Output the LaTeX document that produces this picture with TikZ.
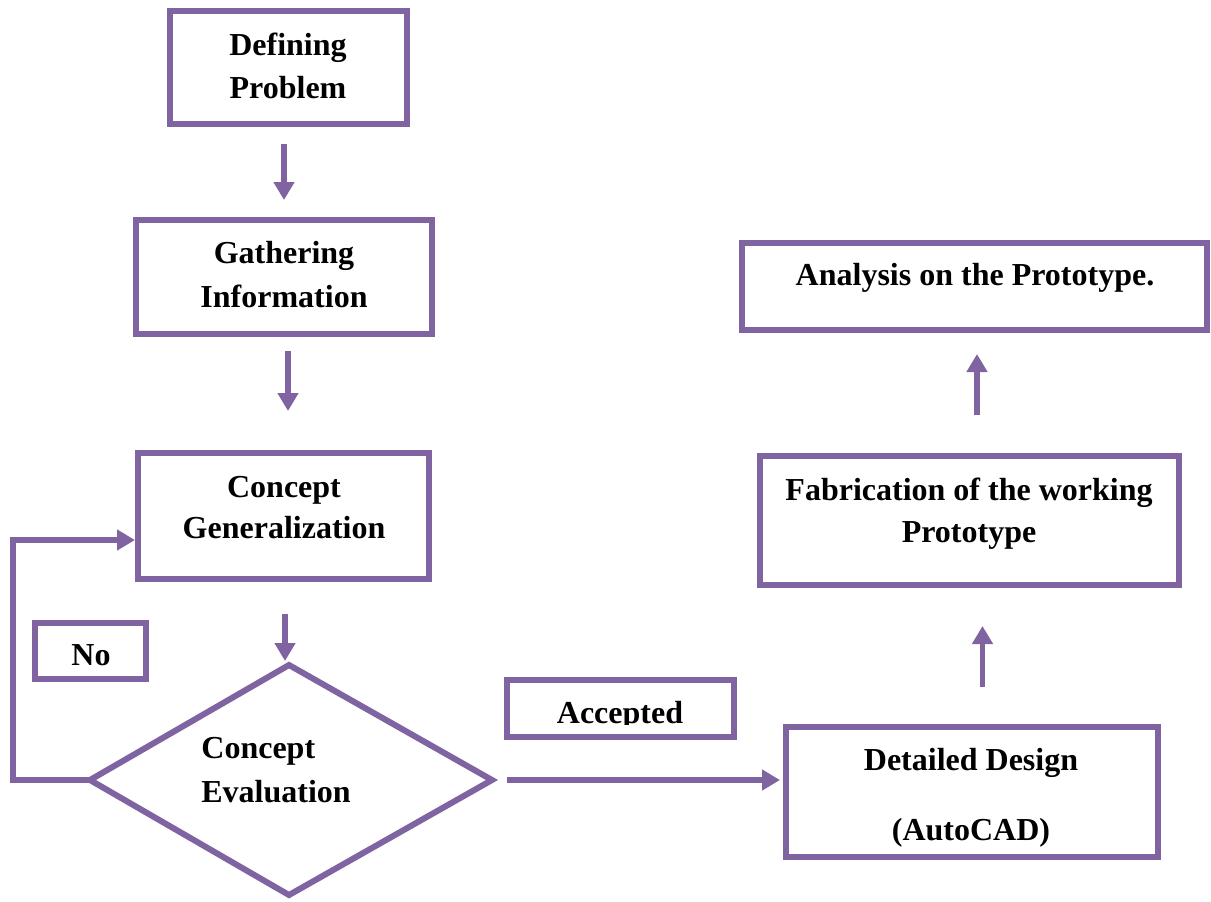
\documentclass[tikz,border=0pt]{standalone}
\usepackage{fontspec}
\setmainfont{Liberation Serif}
\usetikzlibrary{arrows.meta}
\definecolor{purp}{HTML}{8064A2}
\begin{document}
\begin{tikzpicture}[x=0.5pt,y=-0.5pt,
  box/.style={draw=purp,line width=3pt,inner sep=0pt,fill=white},
  txt/.style={font=\bfseries\fontsize{16}{19}\selectfont,anchor=base,inner sep=0pt},
  txtl/.style={txt,anchor=base west},
  arr/.style={draw=purp,line width=2.75pt,-{Triangle[width=10pt,length=9pt]}},
  dline/.style={draw=purp,line width=3pt,line join=miter}]
\fill[white] (0,0) rectangle (1211,901);
\useasboundingbox (0,0) rectangle (1211,901);

% boxes
\node[box,minimum width=118.5pt,minimum height=56.5pt] (def) at (288.5,67.5) {};
\node[box,minimum width=148pt,minimum height=57pt] (gat) at (284,277) {};
\node[box,minimum width=145.5pt,minimum height=63pt] (cg) at (283.5,516) {};
\node[box,minimum width=55.5pt,minimum height=28pt] (no) at (90.5,651) {};
\node[box,minimum width=113.5pt,minimum height=28.5pt] (acc) at (620.5,708.5) {};
\node[box,minimum width=186pt,minimum height=65pt] (dd) at (972,792) {};
\node[box,minimum width=209.5pt,minimum height=64.5pt] (fab) at (969.5,520.5) {};
\node[box,minimum width=232.5pt,minimum height=43.5pt] (ana) at (974.5,286.5) {};

% diamond
\coordinate (dt) at (289,665);
\coordinate (dr) at (492,780);
\coordinate (db) at (289,895);
\coordinate (dl) at (90,780);
\draw[dline] (dt) -- (dr) -- (db) -- (dl) -- cycle;

% texts
\node[txt] (def1) at (288,55) {Defining};
\node[txt] (def2) at (288,98) {Problem};
\node[txt] (gat1) at (284,263) {Gathering};
\node[txt] (gat2) at (284,307) {Information};
\node[txt] (cg1) at (284,497) {Concept};
\node[txt] (cg2) at (284,538) {Generalization};
\node[txt] (no1) at (91,665) {No};
\node[txtl] (ev1) at (201,758) {Concept};
\node[txtl] (ev2) at (201,802) {Evaluation};
\begin{scope}
  \clip (508,681) rectangle (733,724);
  \node[txt] (acc1) at (620,723) {Accepted};
\end{scope}
\node[txt] (dd1) at (971,770) {Detailed Design};
\node[txt] (dd2) at (971,840) {(AutoCAD)};
\node[txt] (fab1) at (969,500) {Fabrication of the working};
\node[txt] (fab2) at (969,542) {Prototype};
\node[txt] (ana1) at (975,285) {Analysis on the Prototype.};

% connectors
\draw[arr,shorten <=8.5pt,shorten >=8.5pt] (def.south -| gat.north) -- (gat.north);
\draw[arr,shorten <=7pt,shorten >=19.5pt] ([xshift=2pt]gat.south) -- ([xshift=2pt]gat.south |- cg.north);
\draw[arr,shorten <=16pt,shorten >=2pt] ([xshift=0.75pt]cg.south) -- ([xshift=0.75pt]cg.south |- dt);
\draw[arr,shorten <=7.5pt,shorten >=1.5pt] (dr) -- (dr -| dd.west);
\draw[arr,shorten <=18.5pt,shorten >=19pt] ([xshift=5.25pt]dd.north) -- ([xshift=5.25pt]dd.north |- fab.south);
\draw[arr,shorten <=19pt,shorten >=10.5pt] ([xshift=3.75pt]fab.north) -- ([xshift=3.75pt]fab.north |- ana.south);
\coordinate (lp) at (13,780);
\draw[arr,line join=miter] (dl) -- (lp) |- ([yshift=-12pt]cg.west);
\end{tikzpicture}
\end{document}
